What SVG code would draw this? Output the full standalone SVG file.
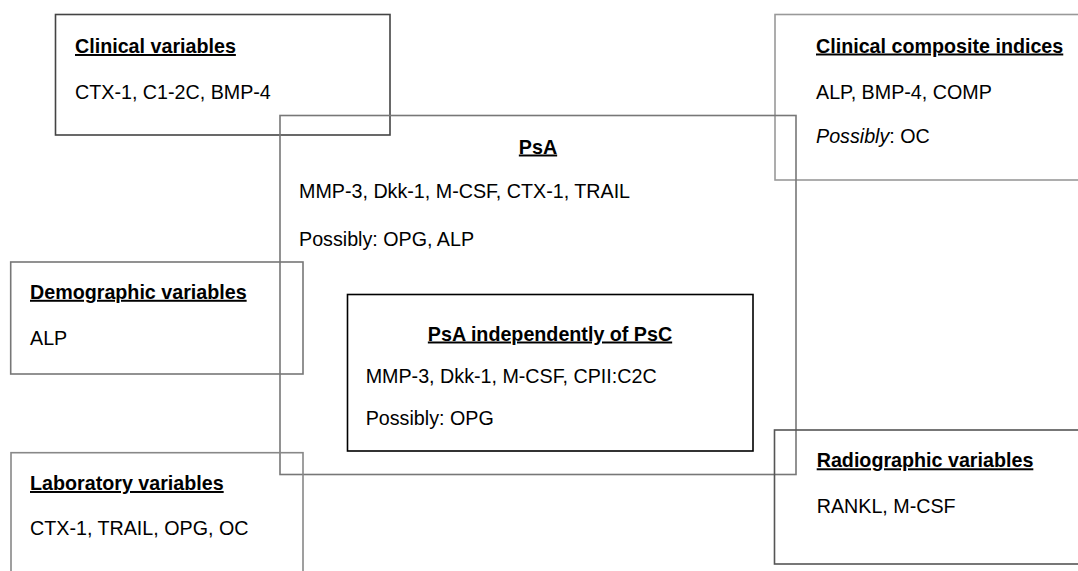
<svg xmlns="http://www.w3.org/2000/svg" width="1078" height="571" viewBox="0 0 1078 571">
<style>
rect{fill:none;stroke-width:1.6}
text{font-family:"Liberation Sans",Arial,sans-serif;font-size:19.7px;fill:#000}
.t{font-weight:bold;text-decoration:underline}
.m{text-anchor:middle}
</style>
<rect x="0" y="0" width="1078" height="571" style="fill:#fff;stroke:none"/>
<g id="connectors"></g>
<g id="clinical-variables">
<rect x="55.5" y="14.5" width="334.5" height="120.5" stroke="#444"/>
<text class="t" x="75" y="53">Clinical variables</text>
<text x="75" y="99">CTX-1, C1-2C, BMP-4</text>
</g>
<g id="clinical-composite">
<rect x="775" y="14.5" width="320" height="165.5" stroke="#999"/>
<text class="t" x="816" y="52.5">Clinical composite indices</text>
<text x="816" y="98.7">ALP, BMP-4, COMP</text>
<text x="816" y="142.7"><tspan font-style="italic">Possibly</tspan>: OC</text>
</g>
<g id="psa">
<rect x="280" y="115.5" width="516" height="359" stroke="#777"/>
<text class="t m" x="538" y="153.5">PsA</text>
<text x="299" y="197.5">MMP-3, Dkk-1, M-CSF, CTX-1, TRAIL</text>
<text x="299" y="246">Possibly: OPG, ALP</text>
</g>
<g id="demographic">
<rect x="10.7" y="262" width="292.3" height="112" stroke="#777"/>
<text class="t" x="30" y="298.8">Demographic variables</text>
<text x="30" y="344.5">ALP</text>
</g>
<g id="psa-independent">
<rect x="347.5" y="294.5" width="405.5" height="156.5" stroke="#000"/>
<text class="t m" x="550" y="340.5">PsA independently of PsC</text>
<text x="365.7" y="382.8">MMP-3, Dkk-1, M-CSF, CPII:C2C</text>
<text x="365.7" y="425">Possibly: OPG</text>
</g>
<g id="laboratory">
<rect x="11" y="452.7" width="292" height="140" stroke="#888"/>
<text class="t" x="30" y="490">Laboratory variables</text>
<text x="30" y="535">CTX-1, TRAIL, OPG, OC</text>
</g>
<g id="radiographic">
<rect x="774.5" y="430" width="320" height="134" stroke="#555"/>
<text class="t" x="816.7" y="467.3">Radiographic variables</text>
<text x="816.7" y="512.5">RANKL, M-CSF</text>
</g>
</svg>
